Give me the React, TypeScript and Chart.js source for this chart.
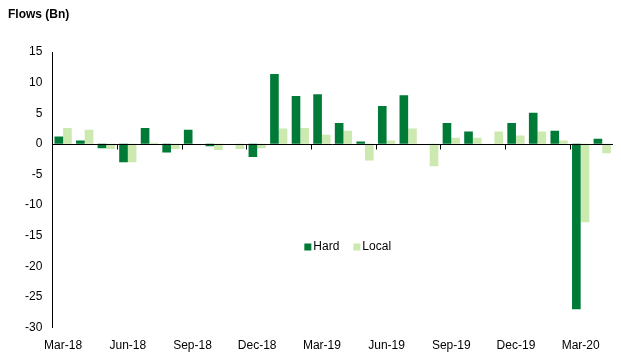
import React, { useEffect, useRef } from "react";
import { Chart, registerables } from "chart.js";

Chart.register(...registerables);

const chartTitle = "Flows (Bn)";

const categories = [
  "Mar-18", "Apr-18", "May-18", "Jun-18", "Jul-18", "Aug-18", "Sep-18", "Oct-18", "Nov-18",
  "Dec-18", "Jan-19", "Feb-19", "Mar-19", "Apr-19", "May-19", "Jun-19", "Jul-19", "Aug-19",
  "Sep-19", "Oct-19", "Nov-19", "Dec-19", "Jan-20", "Feb-20", "Mar-20", "Apr-20",
];

const hardFlows = [
  1.2, 0.55, -0.7, -3.0, 2.6, -1.4, 2.3, -0.4, 0, -2.15, 11.4, 7.8, 8.1, 3.4, 0.4, 6.2, 7.95, 0,
  3.4, 2.0, 0, 3.4, 5.1, 2.15, -27.0, 0.85,
];

const localFlows = [
  2.6, 2.3, -0.85, -3.0, 0.2, -0.85, 0, -1.0, -0.85, -0.7, 2.5, 2.6, 1.5, 2.15, -2.7, 0.55, 2.5,
  -3.65, 1.0, 1.0, 2.0, 1.35, 2.0, 0.55, -12.8, -1.55,
];

const seriesNames = ["Hard", "Local"];
const seriesColors = ["#007A37", "#CCE9AF"];

const yMin = -30;
const yMax = 15;
const yStep = 5;
const labelEvery = 3;

const FONT = "'Liberation Sans', Arial, sans-serif";

const titlePlugin = {
  id: "titleText",
  afterDraw(chart: any) {
    const ctx = chart.ctx;
    ctx.save();
    ctx.fillStyle = "#000";
    ctx.font = `bold 12px ${FONT}`;
    ctx.textBaseline = "middle";
    ctx.textAlign = "left";
    ctx.fillText(chartTitle, 8, 15);
    ctx.restore();
  },
};

const axisPlugin = {
  id: "zeroAxis",
  afterDatasetsDraw(chart: any) {
    const { ctx, chartArea, scales } = chart;
    const x = scales.x;
    const y = scales.y;
    const y0 = Math.round(y.getPixelForValue(0)) + 0.5;
    const step = x.getPixelForValue(1) - x.getPixelForValue(0);
    ctx.save();
    ctx.strokeStyle = "#000";
    ctx.lineWidth = 1;
    ctx.beginPath();
    ctx.moveTo(chartArea.left, y0);
    ctx.lineTo(chartArea.right, y0);
    for (let i = labelEvery; i < categories.length; i += labelEvery) {
      const px = Math.round(x.getPixelForValue(i) - step / 2) + 0.5;
      ctx.moveTo(px, y0);
      ctx.lineTo(px, y0 + 5);
    }
    ctx.stroke();
    ctx.restore();
  },
};

const legendPlugin = {
  id: "innerLegend",
  afterDraw(chart: any) {
    const { ctx, chartArea } = chart;
    let cx = chartArea.left + 252;
    const cy = chartArea.top + 195;
    ctx.save();
    ctx.font = `12px ${FONT}`;
    ctx.textBaseline = "middle";
    ctx.textAlign = "left";
    chart.data.datasets.forEach((ds: any) => {
      ctx.fillStyle = ds.backgroundColor;
      ctx.fillRect(cx, cy - 3.5, 7, 7);
      ctx.fillStyle = "#000";
      ctx.fillText(ds.label, cx + 9, cy);
      cx += 9 + ctx.measureText(ds.label).width + 14;
    });
    ctx.restore();
  },
};

export default function App() {
  const canvasRef = useRef<HTMLCanvasElement | null>(null);

  useEffect(() => {
    if (!canvasRef.current) return;
    const chart = new Chart(canvasRef.current, {
      type: "bar",
      data: {
        labels: categories,
        datasets: [
          {
            label: seriesNames[0],
            data: hardFlows,
            backgroundColor: seriesColors[0],
            borderWidth: 0,
            categoryPercentage: 0.8,
            barPercentage: 1.0,
          },
          {
            label: seriesNames[1],
            data: localFlows,
            backgroundColor: seriesColors[1],
            borderWidth: 0,
            categoryPercentage: 0.8,
            barPercentage: 1.0,
          },
        ],
      },
      options: {
        animation: false,
        responsive: true,
        maintainAspectRatio: false,
        devicePixelRatio: 1,
        layout: { padding: { top: 52, left: 15, right: 8, bottom: 0 } },
        plugins: {
          legend: { display: false },
          title: { display: false },
          tooltip: { enabled: false },
        },
        scales: {
          x: {
            grid: { display: false, drawTicks: false },
            border: { display: false },
            ticks: {
              autoSkip: false,
              maxRotation: 0,
              minRotation: 0,
              padding: 11,
              color: "#000",
              font: { family: FONT, size: 12 },
              callback: (_v: any, i: number) => (i % labelEvery === 0 ? categories[i] : ""),
            },
          },
          y: {
            min: yMin,
            max: yMax,
            grid: { display: false, drawTicks: false },
            border: { display: true, color: "#000", width: 1 },
            ticks: {
              stepSize: yStep,
              padding: 10,
              color: "#000",
              font: { family: FONT, size: 12 },
            },
          },
        },
      },
      plugins: [axisPlugin, legendPlugin, titlePlugin],
    } as any);
    return () => chart.destroy();
  }, []);

  return (
    <div style={{ position: "absolute", left: 0, top: 0, width: 621, height: 364, background: "#fff" }}>
      <canvas ref={canvasRef} />
    </div>
  );
}
